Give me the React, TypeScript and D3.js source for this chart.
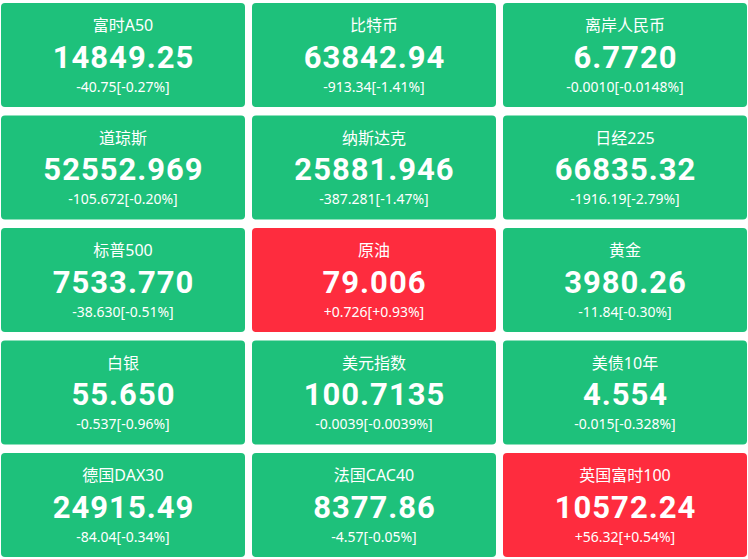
import { useEffect, useRef } from 'react';
import * as d3 from 'd3';

// quote board data
const names = [
  '富时A50', '比特币', '离岸人民币',
  '道琼斯', '纳斯达克', '日经225',
  '标普500', '原油', '黄金',
  '白银', '美元指数', '美债10年',
  '德国DAX30', '法国CAC40', '英国富时100',
];
const prices = [
  '14849.25', '63842.94', '6.7720',
  '52552.969', '25881.946', '66835.32',
  '7533.770', '79.006', '3980.26',
  '55.650', '100.7135', '4.554',
  '24915.49', '8377.86', '10572.24',
];
const changes = [
  '-40.75', '-913.34', '-0.0010',
  '-105.672', '-387.281', '-1916.19',
  '-38.630', '+0.726', '-11.84',
  '-0.537', '-0.0039', '-0.015',
  '-84.04', '-4.57', '+56.32',
];
const percents = [
  '-0.27%', '-1.41%', '-0.0148%',
  '-0.20%', '-1.47%', '-2.79%',
  '-0.51%', '+0.93%', '-0.30%',
  '-0.96%', '-0.0039%', '-0.328%',
  '-0.34%', '-0.05%', '+0.54%',
];

const WIDTH = 748;
const HEIGHT = 559;
const COLS = 3;
const UP = '#fe2c3e';
const DOWN = '#1ec17b';
const FONT = '"Microsoft YaHei", "Noto Sans", "Noto Sans CJK SC", sans-serif';
const NUM_FONT = 'Roboto, "Noto Sans", sans-serif';

const App = () => {
  const svgRef = useRef<SVGSVGElement>(null);

  useEffect(() => {
    if (!svgRef.current) return;
    const svg = d3.select(svgRef.current);
    svg.selectAll('*').remove();

    const rows = Math.ceil(names.length / COLS);
    const x = d3
      .scaleBand<number>()
      .domain(d3.range(COLS))
      .range([1, 747])
      .paddingInner(7 / 251);
    const y = d3
      .scaleBand<number>()
      .domain(d3.range(rows))
      .range([3, 557])
      .paddingInner(8.5 / 112.5);

    const tiles = svg
      .selectAll('g.tile')
      .data(names.map((n, i) => ({ n, i })))
      .join('g')
      .attr('class', 'tile')
      .attr(
        'transform',
        (d) => `translate(${x(d.i % COLS)},${y(Math.floor(d.i / COLS))})`
      );

    const w = x.bandwidth();

    tiles
      .append('rect')
      .attr('width', w)
      .attr('height', y.bandwidth())
      .attr('rx', 4)
      .attr('fill', (d) => (changes[d.i].startsWith('+') ? UP : DOWN));

    tiles
      .append('text')
      .attr('x', w / 2)
      .attr('y', 28)
      .attr('text-anchor', 'middle')
      .attr('fill', '#fff')
      .attr('font-size', 16)
      .text((d) => d.n);

    tiles
      .append('text')
      .attr('x', w / 2 + 0.5)
      .attr('y', 64.5)
      .attr('text-anchor', 'middle')
      .attr('fill', '#fff')
      .attr('font-family', NUM_FONT)
      .attr('font-size', 31)
      .attr('font-weight', 'bold')
      .attr('letter-spacing', 1)
      .text((d) => prices[d.i]);

    tiles
      .append('text')
      .attr('x', w / 2)
      .attr('y', 88.5)
      .attr('text-anchor', 'middle')
      .attr('fill', '#fff')
      .attr('font-size', 14)
      .text((d) => `${changes[d.i]}[${percents[d.i]}]`);
  }, []);

  return (
    <svg
      ref={svgRef}
      width={WIDTH}
      height={HEIGHT}
      style={{
        display: 'block',
        position: 'absolute',
        left: 0,
        top: 0,
        fontFamily: FONT,
        background: '#fff',
      }}
    />
  );
};

export default App;
